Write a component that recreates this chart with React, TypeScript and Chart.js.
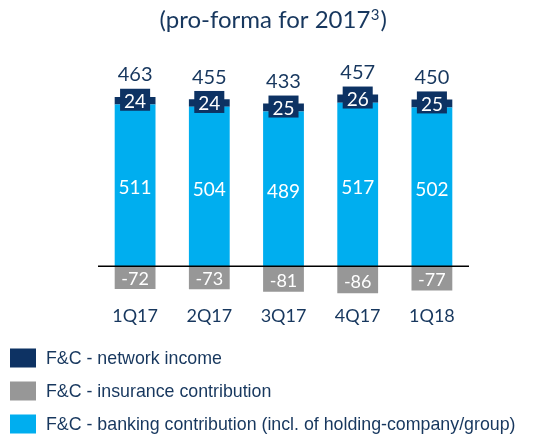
import { useEffect, useRef } from "react";
import { Chart, registerables } from "chart.js";

Chart.register(...registerables);

const categories = ["1Q17", "2Q17", "3Q17", "4Q17", "1Q18"];
const bankingContribution = [511, 504, 489, 517, 502];
const networkIncome = [24, 24, 25, 26, 25];
const insuranceContribution = [-72, -73, -81, -86, -77];
const totals = [463, 455, 433, 457, 450];
const titleMain = "(pro-forma for 2017";
const titleSup = "3";
const titleEnd = ")";
const legendNetwork = "F&C - network income";
const legendInsurance = "F&C - insurance contribution";
const legendBanking = "F&C - banking contribution (incl. of holding-company/group)";

const NAVY = "#0D3263";
const GRAY = "#979797";
const BLUE = "#00AEEF";
const TEXT = "#17375E";
const NUM_FONT = "Lato, 'Open Sans', sans-serif";

const labelsPlugin = {
  id: "customLabels",
  afterDatasetsDraw(chart: any) {
    const ctx = chart.ctx as CanvasRenderingContext2D;
    const { left, right } = chart.chartArea;
    const y0 = chart.scales.y.getPixelForValue(0);
    ctx.save();
    ctx.strokeStyle = "#000000";
    ctx.lineWidth = 1.5;
    ctx.beginPath();
    ctx.moveTo(left, y0);
    ctx.lineTo(right, y0);
    ctx.stroke();

    ctx.textAlign = "center";
    ctx.textBaseline = "middle";

    const mBank = chart.getDatasetMeta(0);
    ctx.font = `19px ${NUM_FONT}`;
    ctx.fillStyle = "#FFFFFF";
    mBank.data.forEach((el: any, i: number) => {
      const p = el.getProps(["x", "y", "base"], true);
      ctx.fillText(String(chart.data.datasets[0].data[i]), p.x, (p.y + p.base) / 2 + 3);
    });

    const mIns = chart.getDatasetMeta(2);
    ctx.font = `18px ${NUM_FONT}`;
    mIns.data.forEach((el: any, i: number) => {
      const p = el.getProps(["x", "y", "base"], true);
      ctx.fillStyle = "#FFFFFF";
      ctx.fillText(String(chart.data.datasets[2].data[i]), p.x, (p.y + p.base) / 2 + 2);
    });

    const mNet = chart.getDatasetMeta(1);
    ctx.font = `19px ${NUM_FONT}`;
    mNet.data.forEach((el: any, i: number) => {
      const p = el.getProps(["x", "y", "base"], true);
      const cy = (p.y + p.base) / 2;
      const txt = String(chart.data.datasets[1].data[i]);
      const w = ctx.measureText(txt).width + 8;
      const h = 22;
      ctx.fillStyle = NAVY;
      ctx.fillRect(p.x - w / 2, cy - h / 2 - 1, w, h);
      ctx.fillStyle = "#FFFFFF";
      ctx.fillText(txt, p.x, cy + 1);
    });

    ctx.font = `20px ${NUM_FONT}`;
    ctx.fillStyle = TEXT;
    mNet.data.forEach((el: any, i: number) => {
      const p = el.getProps(["x", "y"], true);
      ctx.fillText(String(totals[i]), p.x, p.y - 22);
    });
    ctx.restore();
  },
  afterDraw(chart: any) {
    const ctx = chart.ctx as CanvasRenderingContext2D;
    ctx.save();
    // title with superscript
    ctx.textBaseline = "alphabetic";
    ctx.textAlign = "left";
    ctx.fillStyle = TEXT;
    const mainFont = `24px ${NUM_FONT}`;
    const supFont = `15px ${NUM_FONT}`;
    ctx.font = mainFont;
    const wMain = ctx.measureText(titleMain).width;
    const wEnd = ctx.measureText(titleEnd).width;
    ctx.font = supFont;
    const wSup = ctx.measureText(titleSup).width + 1;
    const total = wMain + wSup + wEnd;
    let x = 273 - total / 2;
    const baseY = 28;
    ctx.font = mainFont;
    ctx.fillText(titleMain, x, baseY);
    x += wMain + 0.5;
    ctx.font = supFont;
    ctx.fillText(titleSup, x, baseY - 8);
    x += wSup;
    ctx.font = mainFont;
    ctx.fillText(titleEnd, x, baseY);

    // legend
    const items = [
      { label: legendNetwork, color: chart.data.datasets[1].backgroundColor },
      { label: legendInsurance, color: chart.data.datasets[2].backgroundColor },
      { label: legendBanking, color: chart.data.datasets[0].backgroundColor },
    ];
    ctx.textAlign = "left";
    ctx.textBaseline = "middle";
    ctx.font = "17.8px 'Liberation Sans', Arial, sans-serif";
    items.forEach((it, i) => {
      const cy = 358 + i * 33;
      ctx.fillStyle = it.color;
      ctx.fillRect(10, cy - 9.5, 26, 19);
      ctx.fillStyle = TEXT;
      ctx.fillText(it.label, 46, cy + 1);
    });
    ctx.restore();
  },
};

export default function App() {
  const ref = useRef<HTMLCanvasElement | null>(null);
  useEffect(() => {
    if (!ref.current) return;
    const chart = new Chart(ref.current, {
      type: "bar",
      data: {
        labels: categories,
        datasets: [
          {
            label: legendBanking,
            data: bankingContribution,
            backgroundColor: BLUE,
            stack: "s",
          },
          {
            label: legendNetwork,
            data: networkIncome,
            backgroundColor: NAVY,
            stack: "s",
          },
          {
            label: legendInsurance,
            data: insuranceContribution,
            backgroundColor: GRAY,
            stack: "s",
          },
        ],
      },
      options: {
        animation: false,
        responsive: false,
        maintainAspectRatio: false,
        layout: { padding: { left: 98, right: 72, top: 90, bottom: 104 } },
        datasets: { bar: { categoryPercentage: 1, barPercentage: 0.55 } },
        plugins: {
          legend: { display: false },
          title: { display: false },
          tooltip: { enabled: false },
        },
        scales: {
          x: {
            stacked: true,
            grid: { display: false, drawTicks: false },
            border: { display: false },
            ticks: {
              padding: 4,
              color: TEXT,
              font: { family: NUM_FONT, size: 18 },
            },
          },
          y: {
            stacked: true,
            display: false,
            min: -111.5,
            max: 557,
          },
        },
      },
      plugins: [labelsPlugin],
    });
    return () => chart.destroy();
  }, []);
  return (
    <div style={{ position: "fixed", left: 0, top: 0, width: 541, height: 435, background: "#FFFFFF" }}>
      <canvas ref={ref} width={541} height={435} />
    </div>
  );
}
